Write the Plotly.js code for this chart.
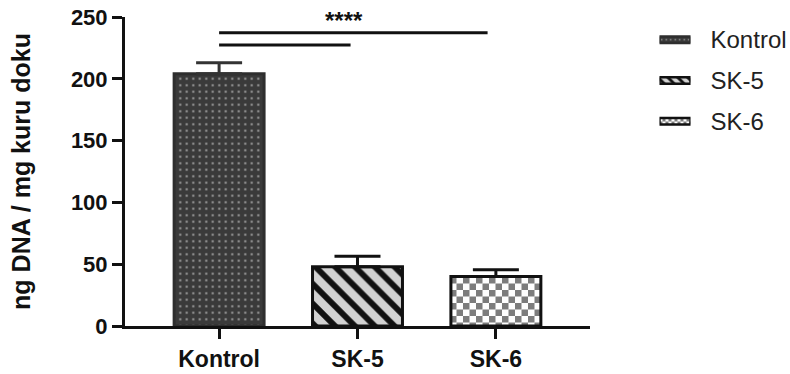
<!DOCTYPE html>
<html>
<head>
<meta charset="utf-8">
<script src="https://cdn.plot.ly/plotly-3.0.1.min.js"></script>
<style>
  html, body { margin: 0; padding: 0; background: #fff; }
  #chart { width: 790px; height: 374px; }
</style>
</head>
<body>
<div id="chart"></div>
<script>
// Groups, mean DNA content and SD
const groups = ['Kontrol', 'SK-5', 'SK-6'];
const meanDNA = [204, 48, 40];
const sdDNA = [9, 8.5, 5.5];
const yTicks = [0, 50, 100, 150, 200, 250];
const yTitle = 'ng DNA / mg kuru doku';
const sigLabel = '****';

const FONT = 'Liberation Sans, Arial, Helvetica, sans-serif';
const INK = '#111';

// Fill style per group; "texture" marks fills finished by hand after drawing
const looks = {
  'Kontrol': { bg: '#3a3a3a', fg: '#a0a0a0', shape: '.', size: 8, solidity: 0.08, line: '#2e2e2e', err: '#333', texture: 'dots' },
  'SK-5':    { bg: '#d2d2d2', fg: '#111111', shape: '\\', size: 14, solidity: 0.42, line: '#111', err: '#111', texture: '' },
  'SK-6':    { bg: '#ffffff', fg: '#7d7d7d', shape: '+', size: 13, solidity: 0.5, line: '#111', err: '#111', texture: 'checker' }
};

function patternOf(g, small) {
  const s = looks[g];
  return { shape: s.shape, bgcolor: s.bg, fgcolor: s.fg, fgopacity: 1,
           size: small ? Math.max(4, Math.round(s.size * 0.5)) : s.size,
           solidity: s.solidity, fillmode: 'replace' };
}

const data = [];

// Main bars with upward SD whiskers
groups.forEach(function (g, i) {
  const s = looks[g];
  data.push({
    type: 'bar', x: [g], y: [meanDNA[i]], width: 0.65,
    marker: { color: s.bg, pattern: patternOf(g, false), line: { color: s.line, width: 3 } },
    error_y: { type: 'data', symmetric: false, array: [sdDNA[i]], arrayminus: [0],
               color: s.err, thickness: 3, width: 23 },
    meta: s.texture, showlegend: false, hoverinfo: 'x+y', cliponaxis: false
  });
});

// Key swatches, drawn as small horizontal bars on their own axes
groups.forEach(function (g) {
  const s = looks[g];
  data.push({
    type: 'bar', orientation: 'h', x: [1], y: [g], base: 0, width: 0.16,
    xaxis: 'x2', yaxis: 'y2',
    marker: { color: s.bg, pattern: patternOf(g, true), line: { color: s.line, width: 2.5 } },
    meta: s.texture, showlegend: false, hoverinfo: 'skip', cliponaxis: false
  });
});

const shapes = [
  { type: 'line', xref: 'x', yref: 'y', x0: 0, x1: 1 - 0.05, y0: 227.3, y1: 227.3,
    line: { color: INK, width: 3 } },
  { type: 'line', xref: 'x', yref: 'y', x0: 0, x1: 2 - 0.06, y0: 237.3, y1: 237.3,
    line: { color: INK, width: 3 } }
];

const layout = {
  width: 790, height: 374,
  margin: { l: 125, r: 10, t: 17, b: 48 },
  paper_bgcolor: '#fff', plot_bgcolor: 'rgba(0,0,0,0)',
  showlegend: false,
  barmode: 'overlay',
  font: { family: FONT, color: INK },
  xaxis: {
    domain: [0, 0.7099], type: 'category', categoryorder: 'array', categoryarray: groups,
    range: [-0.68, 2.68], fixedrange: true,
    showline: true, linecolor: INK, linewidth: 3,
    ticks: 'outside', ticklen: 10, tickwidth: 3, tickcolor: INK,
    showgrid: false, zeroline: false,
    tickfont: { family: FONT, size: 23, weight: 'bold', color: INK }
  },
  yaxis: {
    range: [0, 250], tickvals: yTicks, ticktext: yTicks.map(String), fixedrange: true,
    showline: true, linecolor: INK, linewidth: 3,
    ticks: 'outside', ticklen: 10, tickwidth: 3, tickcolor: INK,
    showgrid: false, zeroline: false,
    tickfont: { family: FONT, size: 22, weight: 'bold', color: INK },
    title: { text: yTitle, font: { family: FONT, size: 25, weight: 'bold', color: INK }, standoff: 34 }
  },
  xaxis2: { domain: [0.816, 0.8634], anchor: 'y2', range: [0, 1], visible: false, fixedrange: true },
  yaxis2: {
    domain: [0.5971, 0.9919], anchor: 'x2', side: 'right', type: 'category',
    categoryorder: 'array', categoryarray: groups, range: [2.5, -0.5], fixedrange: true,
    showline: false, ticks: '', showgrid: false, zeroline: false,
    ticklabelstandoff: 19,
    tickfont: { family: FONT, size: 24, color: '#222' }
  },
  shapes: shapes,
  annotations: [
    { xref: 'x', yref: 'y', x: 0.9, y: 250, text: sigLabel, showarrow: false,
      xanchor: 'center', yanchor: 'middle', yshift: -3,
      font: { family: FONT, size: 24, weight: 'bold', color: INK } }
  ]
};

const gd = document.getElementById('chart');

// Replace the contents of the patterns used by textured bars
function applyTextures() {
  const NS = 'http://www.w3.org/2000/svg';
  gd.querySelectorAll('.trace.bars').forEach(function (tg) {
    const cd = tg.__data__;
    const tr = cd && cd[0] && cd[0].trace;
    if (!tr || !tr.meta) return;
    const isKey = tr.xaxis === 'x2';
    const s = looks[tr.y[0]] || looks[tr.x[0]];
    tg.querySelectorAll('.point path').forEach(function (p) {
      const fill = p.style.fill || p.getAttribute('fill') || '';
      const m = /#([^'")\s]+)/.exec(fill);
      if (!m) return;
      const pat = gd.querySelector('pattern[id="' + m[1] + '"]');
      if (!pat) return;
      while (pat.firstChild) pat.removeChild(pat.firstChild);
      pat.removeAttribute('patternTransform');
      const rect = function (x, y, w, h, c) {
        const r = document.createElementNS(NS, 'rect');
        r.setAttribute('x', x); r.setAttribute('y', y);
        r.setAttribute('width', w); r.setAttribute('height', h);
        r.setAttribute('fill', c);
        pat.appendChild(r);
      };
      if (tr.meta === 'checker') {
        const cell = isKey ? 3 : 6.5;
        pat.setAttribute('width', 2 * cell);
        pat.setAttribute('height', 2 * cell);
        rect(0, 0, 2 * cell, 2 * cell, s.bg);
        rect(0, 0, cell, cell, s.fg);
        rect(cell, cell, cell, cell, s.fg);
      } else if (tr.meta === 'dots') {
        const step = isKey ? 4.5 : 6.5;
        const dot = isKey ? 1.4 : 2;
        pat.setAttribute('width', step);
        pat.setAttribute('height', step);
        rect(0, 0, step, step, s.bg);
        rect((step - dot) / 2, (step - dot) / 2, dot, dot, s.fg);
      }
    });
  });
}

Plotly.newPlot(gd, data, layout, { displayModeBar: false, staticPlot: true }).then(applyTextures);
</script>
</body>
</html>
